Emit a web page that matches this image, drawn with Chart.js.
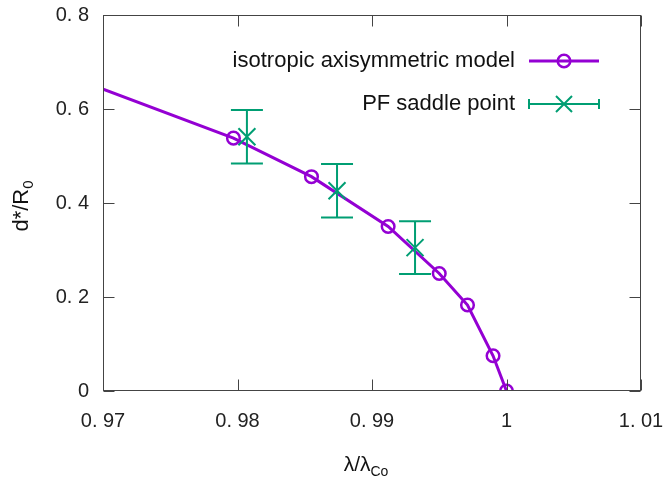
<!DOCTYPE html>
<html>
<head>
<meta charset="utf-8">
<script src="https://cdn.jsdelivr.net/npm/chart.js@4.4.0/dist/chart.umd.min.js"></script>
<style>
  html, body { margin: 0; padding: 0; background: #fff; }
</style>
</head>
<body>
<canvas id="chart" width="664" height="483"></canvas>
<script>
// isotropic axisymmetric model (first point lies left of the visible range)
const modelX = [0.960, 0.9797, 0.9855, 0.9912, 0.9950, 0.9971, 0.9990, 1.0000];
const modelY = [0.750, 0.538, 0.456, 0.350, 0.250, 0.183, 0.075, 0.000];
// PF saddle point with symmetric error
const pfX = [0.9807, 0.9874, 0.9932];
const pfY = [0.541, 0.426, 0.305];
const pfErr = [0.057, 0.057, 0.056];

const xTicks = [0.97, 0.98, 0.99, 1.00, 1.01];
const xTickLabels = ['0. 97', '0. 98', '0. 99', '1', '1. 01'];
const yTicks = [0, 0.2, 0.4, 0.6, 0.8];
const yTickLabels = ['0', '0. 2', '0. 4', '0. 6', '0. 8'];

const purple = '#9400d3';
const green = '#009e73';
const fontFamily = '"Liberation Sans", Arial, sans-serif';

const decorations = {
    id: 'decorations',
    afterDatasetsDraw(chart) {
        const {ctx, chartArea: a, scales: {x, y}} = chart;
        const cap = 16;
        ctx.save();
        ctx.beginPath();
        ctx.rect(a.left, a.top, a.right - a.left, a.bottom - a.top);
        ctx.clip();
        ctx.strokeStyle = green;
        ctx.lineWidth = 2;
        pfX.forEach((v, i) => {
            const px = x.getPixelForValue(v);
            const top = y.getPixelForValue(pfY[i] + pfErr[i]);
            const bot = y.getPixelForValue(pfY[i] - pfErr[i]);
            ctx.beginPath();
            ctx.moveTo(px, top); ctx.lineTo(px, bot);
            ctx.moveTo(px - cap, top); ctx.lineTo(px + cap, top);
            ctx.moveTo(px - cap, bot); ctx.lineTo(px + cap, bot);
            ctx.stroke();
        });
        ctx.restore();
    },
    afterDraw(chart) {
        const {ctx, chartArea: a, scales: {x, y}} = chart;
        ctx.save();

        // border box with inward ticks on all sides
        ctx.strokeStyle = '#444';
        ctx.lineWidth = 1;
        const L = Math.round(a.left) + 0.5, R = Math.round(a.right) - 0.5;
        const T = Math.round(a.top) + 0.5, B = Math.round(a.bottom) - 0.5;
        ctx.strokeRect(L, T, R - L, B - T);
        const tl = 11;
        ctx.beginPath();
        xTicks.forEach(v => {
            const px = Math.round(x.getPixelForValue(v)) + 0.5;
            ctx.moveTo(px, B); ctx.lineTo(px, B - tl);
            ctx.moveTo(px, T); ctx.lineTo(px, T + tl);
        });
        yTicks.forEach(v => {
            const py = Math.round(y.getPixelForValue(v)) + 0.5;
            ctx.moveTo(L, py); ctx.lineTo(L + tl, py);
            ctx.moveTo(R, py); ctx.lineTo(R - tl, py);
        });
        ctx.stroke();

        // legend, gnuplot style: text right-aligned, sample to the right
        ctx.fillStyle = '#111';
        ctx.font = '22px ' + fontFamily;
        ctx.textAlign = 'right';
        ctx.textBaseline = 'middle';
        const textRight = 515, s0 = 529, s1 = 599, sc = 564;
        const row1 = 61, row2 = 104;
        ctx.fillText('isotropic axisymmetric model', textRight, row1);
        ctx.fillText('PF saddle point', textRight, row2);

        ctx.strokeStyle = purple;
        ctx.lineWidth = 3;
        ctx.beginPath();
        ctx.moveTo(s0, row1); ctx.lineTo(s1, row1);
        ctx.stroke();
        ctx.lineWidth = 2.5;
        ctx.beginPath();
        ctx.arc(sc, row1, 6.3, 0, Math.PI * 2);
        ctx.stroke();

        ctx.strokeStyle = green;
        ctx.lineWidth = 2;
        ctx.beginPath();
        ctx.moveTo(s0, row2); ctx.lineTo(s1, row2);
        ctx.moveTo(s0, row2 - 5); ctx.lineTo(s0, row2 + 5);
        ctx.moveTo(s1, row2 - 5); ctx.lineTo(s1, row2 + 5);
        ctx.moveTo(sc - 8, row2 - 8); ctx.lineTo(sc + 8, row2 + 8);
        ctx.moveTo(sc - 8, row2 + 8); ctx.lineTo(sc + 8, row2 - 8);
        ctx.stroke();

        // x title: λ/λ with subscript Co
        ctx.fillStyle = '#111';
        ctx.textAlign = 'left';
        ctx.textBaseline = 'alphabetic';
        ctx.font = '21px ' + fontFamily;
        const xMain = 'λ/λ';
        const xSub = 'Co';
        const wMain = ctx.measureText(xMain).width;
        ctx.font = '14px ' + fontFamily;
        const wSub = ctx.measureText(xSub).width;
        const xStart = 366 - (wMain + wSub) / 2;
        ctx.font = '21px ' + fontFamily;
        ctx.fillText(xMain, xStart, 471);
        ctx.font = '14px ' + fontFamily;
        ctx.fillText(xSub, xStart + wMain, 476);

        // y title: d*/R with subscript 0, rotated
        ctx.save();
        ctx.translate(28, 206);
        ctx.rotate(-Math.PI / 2);
        ctx.font = '22px ' + fontFamily;
        const yMain = 'd*/R';
        const yw = ctx.measureText(yMain).width;
        ctx.font = '15px ' + fontFamily;
        const yws = ctx.measureText('0').width;
        const ys = -(yw + yws) / 2;
        ctx.font = '22px ' + fontFamily;
        ctx.fillText(yMain, ys, 0);
        ctx.font = '15px ' + fontFamily;
        ctx.fillText('0', ys + yw, 5);
        ctx.restore();

        ctx.restore();
    }
};

const config = {
    type: 'scatter',
    data: {
        datasets: [{
            label: 'PF saddle point',
            data: pfX.map((v, i) => ({x: v, y: pfY[i]})),
            showLine: false,
            pointStyle: 'crossRot',
            pointRadius: 12,
            pointBorderWidth: 2,
            borderColor: green,
            backgroundColor: green,
            order: 0,
        }, {
            label: 'isotropic axisymmetric model',
            data: modelX.map((v, i) => ({x: v, y: modelY[i]})),
            showLine: true,
            borderColor: purple,
            borderWidth: 3,
            pointStyle: 'circle',
            pointRadius: 6.3,
            pointBorderWidth: 2.5,
            pointBorderColor: purple,
            pointBackgroundColor: 'rgba(0,0,0,0)',
            tension: 0,
            order: 1,
        }],
    },
    options: {
        responsive: false,
        animation: false,
        events: [],
        layout: {padding: {top: 15, right: 23, left: 0, bottom: 0}},
        scales: {
            x: {
                type: 'linear',
                min: 0.97,
                max: 1.01,
                afterBuildTicks: (scale) => { scale.ticks = xTicks.map(v => ({value: v})); },
                afterFit: (scale) => {
                    scale.height = 92;
                    scale.paddingLeft = 0;
                    scale.paddingRight = 0;
                },
                ticks: {
                    callback: (v, i) => xTickLabels[i],
                    font: {family: fontFamily, size: 20},
                    color: '#222',
                    padding: 18,
                    maxRotation: 0,
                    autoSkip: false,
                },
                grid: {display: false, drawTicks: false},
                border: {display: false},
            },
            y: {
                type: 'linear',
                min: 0,
                max: 0.8,
                afterBuildTicks: (scale) => { scale.ticks = yTicks.map(v => ({value: v})); },
                afterFit: (scale) => {
                    scale.width = 103;
                    scale.paddingTop = 0;
                    scale.paddingBottom = 0;
                },
                ticks: {
                    callback: (v, i) => yTickLabels[i],
                    font: {family: fontFamily, size: 20},
                    color: '#222',
                    padding: 14,
                    autoSkip: false,
                },
                grid: {display: false, drawTicks: false},
                border: {display: false},
            },
        },
        plugins: {
            legend: {display: false},
            tooltip: {enabled: false},
        },
    },
    plugins: [decorations],
};

const chart = new Chart(document.getElementById('chart'), config);
</script>
</body>
</html>
